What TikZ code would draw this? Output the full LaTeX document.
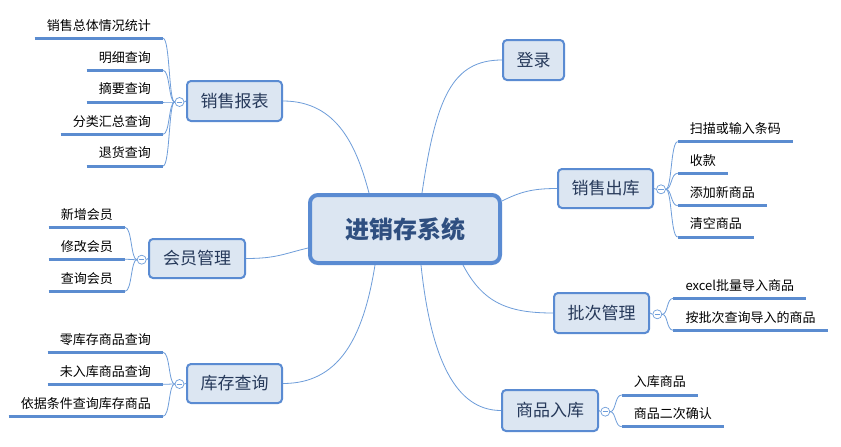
\documentclass[tikz,border=0pt]{standalone}
\usepackage{fontspec}
\setmainfont{Noto Sans CJK SC}
\definecolor{bord}{HTML}{5A8BD2}
\definecolor{boxfill}{HTML}{DCE6F2}
\definecolor{btext}{HTML}{26395A}
\definecolor{ctext}{HTML}{2F4F80}
\definecolor{connc}{HTML}{6E9DDA}
\definecolor{ulc}{HTML}{5B8CD0}
\begin{document}
\begin{tikzpicture}[x=1pt,y=-1pt,
  box/.style={draw=bord,fill=boxfill,line width=2pt,rounded corners=4pt,inner sep=0pt,text=btext,font=\fontsize{17pt}{20pt}\selectfont},
  centerbox/.style={draw=bord,fill=boxfill,line width=4pt,rounded corners=8pt,inner sep=0pt,text=ctext,font=\fontsize{24pt}{28pt}\selectfont\bfseries},
  conn/.style={draw=connc,line width=0.8pt},
  uline/.style={draw=ulc,line width=3pt},
  leafL/.style={anchor=south east,inner xsep=12pt,inner ysep=0pt,minimum height=26pt,font=\fontsize{13pt}{15pt}\selectfont},
  leafR/.style={anchor=south west,inner xsep=12pt,inner ysep=0pt,minimum height=26pt,font=\fontsize{13pt}{15pt}\selectfont},
  tog/.style={circle,draw=connc,fill=white,minimum size=9pt,inner sep=0pt,line width=0.7pt,
    path picture={\draw[connc,line width=0.7pt] ([xshift=-2.6pt]path picture bounding box.center) -- ([xshift=2.6pt]path picture bounding box.center);}}
]
\useasboundingbox (0,0) rectangle (841,447);
\fill[white] (0,0) rectangle (841,447);

% center
\node[centerbox,minimum width=190pt,minimum height=68pt] (cen) at (405,229) {进销存系统};

% branches
\node[box,minimum width=61pt,minimum height=40pt] (login) at (533.5,60) {登录};
\node[box,minimum width=95pt,minimum height=39pt] (out) at (605.5,188.5) {销售出库};
\node[box,minimum width=95pt,minimum height=40pt] (batch) at (601.5,313) {批次管理};
\node[box,minimum width=96pt,minimum height=41pt] (inb) at (550,410.5) {商品入库};
\node[box,minimum width=95pt,minimum height=40pt] (rep) at (234.5,101) {销售报表};
\node[box,minimum width=96pt,minimum height=39pt] (mem) at (197,258.5) {会员管理};
\node[box,minimum width=95pt,minimum height=39pt] (stk) at (234.5,383.5) {库存查询};

% main connectors
\draw[conn] (rep.east) .. controls +(55,0) and +(-12,-45) .. ([xshift=61pt]cen.north west);
\draw[conn] ([xshift=114pt]cen.north west) .. controls +(14,-95) and +(-50,0) .. (login.west);
\draw[conn] (mem.east) .. controls +(30,0) and +(-25,6) .. ([yshift=-19pt]cen.west);
\draw[conn] ([xshift=67pt]cen.south west) .. controls +(-12,75) and +(55,0) .. (stk.east);
\draw[conn] ([xshift=113pt]cen.south west) .. controls +(10,95) and +(-45,0) .. (inb.west);
\draw[conn] ([xshift=155pt]cen.south west) .. controls +(20,38) and +(-45,0) .. (batch.west);
\draw[conn] ([yshift=28pt]cen.east) .. controls +(18,-9) and +(-25,0) .. (out.west);

% toggles
\node[tog] (trep) at (179.5,102) {};
\node[tog] (tmem) at (141.7,259.7) {};
\node[tog] (tstk) at (179.5,384) {};
\node[tog] (tout) at (661,189.3) {};
\node[tog] (tbat) at (657.3,314.3) {};
\node[tog] (tinb) at (605.3,411.7) {};
\draw[conn] (rep.west) -- (trep.east);
\draw[conn] (mem.west) -- (tmem.east);
\draw[conn] (stk.west) -- (tstk.east);
\draw[conn] (out.east) -- (tout.west);
\draw[conn] (batch.east) -- (tbat.west);
\draw[conn] (inb.east) -- (tinb.west);

% left leaves
\foreach \n/\y/\t in {ra/38.3/销售总体情况统计, rb/70.3/明细查询, rc/102/摘要查询, rd/134.3/分类汇总查询, re/166/退货查询}{
  \node[leafL] (\n) at (163,\y) {\t};
  \draw[uline] (\n.south west) -- (\n.south east);
  \draw[conn] (trep.west) .. controls +(-6,0) and +(7,0) .. (\n.south east);
}
\foreach \n/\y/\t in {ma/227.3/新增会员, mb/259.3/修改会员, mc/291.3/查询会员}{
  \node[leafL] (\n) at (125,\y) {\t};
  \draw[uline] (\n.south west) -- (\n.south east);
  \draw[conn] (tmem.west) .. controls +(-6,0) and +(7,0) .. (\n.south east);
}
\foreach \n/\y/\t in {sa/352.3/零库存商品查询, sb/384.3/未入库商品查询, sc/416.3/依据条件查询库存商品}{
  \node[leafL] (\n) at (163,\y) {\t};
  \draw[uline] (\n.south west) -- (\n.south east);
  \draw[conn] (tstk.west) .. controls +(-6,0) and +(7,0) .. (\n.south east);
}
% right leaves
\foreach \n/\y/\t in {oa/141.7/扫描或输入条码, ob/173.3/收款, oc/205.7/添加新商品, od/237/清空商品}{
  \node[leafR] (\n) at (677.7,\y) {\t};
  \draw[uline] (\n.south west) -- (\n.south east);
  \draw[conn] (tout.east) .. controls +(6,0) and +(-7,0) .. (\n.south west);
}
\foreach \n/\y/\t in {ba/298.3/excel批量导入商品, bb/330.3/按批次查询导入的商品}{
  \node[leafR] (\n) at (673.3,\y) {\t};
  \draw[uline] (\n.south west) -- (\n.south east);
  \draw[conn] (tbat.east) .. controls +(6,0) and +(-7,0) .. (\n.south west);
}
\foreach \n/\y/\t in {ia/395/入库商品, ib/426.7/商品二次确认}{
  \node[leafR] (\n) at (621.7,\y) {\t};
  \draw[uline] (\n.south west) -- (\n.south east);
  \draw[conn] (tinb.east) .. controls +(6,0) and +(-7,0) .. (\n.south west);
}
\end{tikzpicture}
\end{document}
